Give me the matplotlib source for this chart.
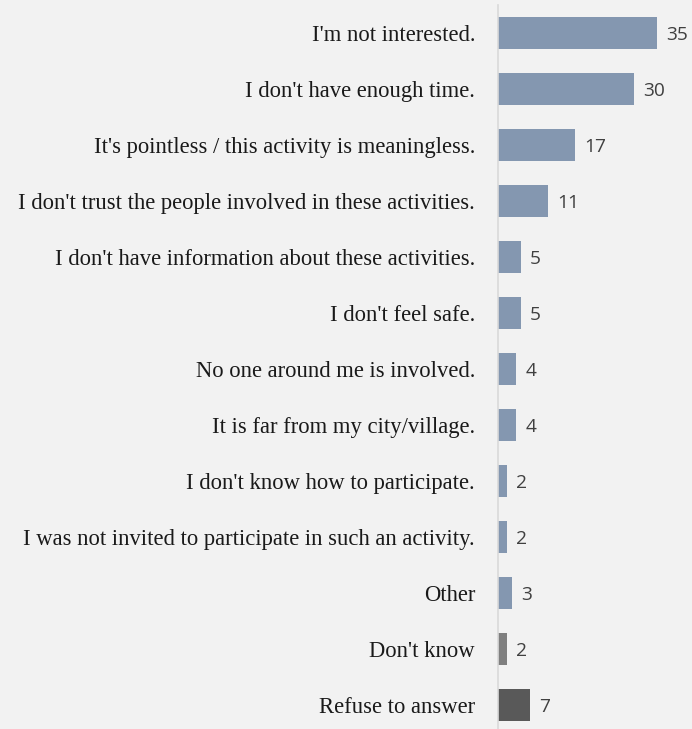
import matplotlib.pyplot as plt

# Reasons for not taking part (percent of respondents)
reasons = [
    "I'm not interested.",
    "I don't have enough time.",
    "It's pointless / this activity is meaningless.",
    "I don't trust the people involved in these activities.",
    "I don't have information about these activities.",
    "I don't feel safe.",
    "No one around me is involved.",
    "It is far from my city/village.",
    "I don't know how to participate.",
    "I was not invited to participate in such an activity.",
    "Other",
    "Don't know",
    "Refuse to answer",
]
values = [35, 30, 17, 11, 5, 5, 4, 4, 2, 2, 3, 2, 7]
colors = ["#8497b0"] * 11 + ["#7f7f7f", "#595959"]

bg = "#f2f2f2"
fig = plt.figure(figsize=(6.92, 7.29), dpi=100, facecolor=bg)
ax = fig.add_axes([0.7197, 0.0, 1 - 0.7197, 724 / 729])
ax.set_facecolor(bg)

y = list(range(len(reasons)))
bars = ax.barh(y, values, height=0.57, color=colors)

ax.set_xlim(0, 42.7)
ax.set_ylim(12.43, -0.5)

ax.set_yticks(y)
ax.set_yticklabels(reasons, fontfamily="Liberation Serif", fontsize=16.3, color="#1a1a1a")
ax.tick_params(axis="y", length=0, pad=16.5)
ax.set_xticks([])

for side in ["top", "right", "bottom"]:
    ax.spines[side].set_visible(False)
ax.spines["left"].set_color("#d9d9d9")
ax.spines["left"].set_linewidth(1.2)

# value labels just past the end of each bar
for yi, v in zip(y, values):
    ax.annotate(str(v), xy=(v, yi), xytext=(6.5, -1.5), textcoords="offset points",
                va="center", ha="left", fontfamily="Open Sans", fontsize=13.8,
                color="#404040")

fig.savefig("out.png", dpi=100, facecolor=bg)
